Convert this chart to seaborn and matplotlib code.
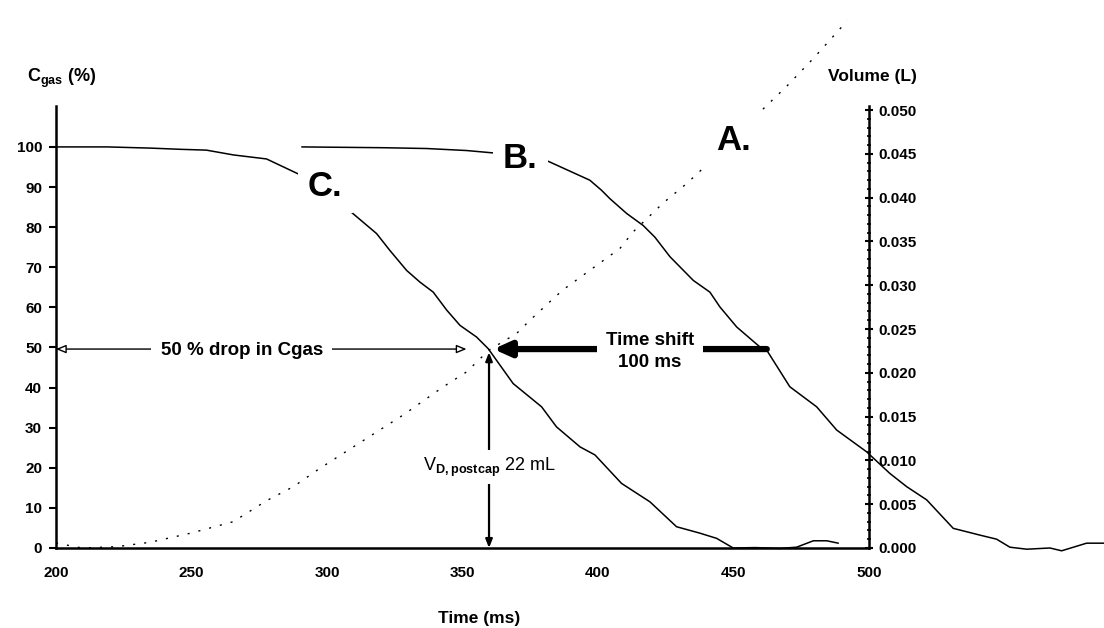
import matplotlib
matplotlib.use('Agg')
import matplotlib.pyplot as plt
from matplotlib.ticker import MultipleLocator
import seaborn as sns

# curve C: gas concentration (%)
time_c = [200, 219, 235, 246, 255.5, 265.5, 277.7, 289.3, 308.5, 318.3, 323.2, 329.4, 334.3, 339.2,
          344.2, 349.1, 355.2, 359.5, 368.7, 379.2, 384.7, 393.4, 398.9, 408.7, 419.2, 429.0,
          437.6, 443.8, 449.9, 458, 467.2, 473.3, 479.5, 484.4, 488.7]
cgas_c = [100, 100, 99.7, 99.4, 99.2, 98.0, 97.0, 93.3, 84.0, 78.4, 74.2, 69.2, 66.3, 63.8,
          59.3, 55.5, 52.6, 49.7, 41.0, 35.2, 30.2, 25.2, 23.2, 16.1, 11.5, 5.3,
          3.7, 2.4, 0.0, 0.1, -0.1, 0.2, 1.8, 1.8, 1.2]

# curve B: gas concentration (%)
time_b = [290.7, 320.8, 336.8, 351.5, 361.4, 381.7, 397.0, 401.3, 404.4, 410.6, 416.7, 421.0,
          426.6, 435.2, 441.3, 445.0, 451.2, 459.8, 462.3, 470.8, 480.7, 488.1, 499.1, 507.7,
          513.9, 521.3, 531.1, 541.0, 547.1, 552.0, 558.2, 566.8, 571.1, 580.3, 586.7]
cgas_b = [100, 99.8, 99.6, 99.1, 98.5, 96.4, 91.7, 89.2, 87.1, 83.4, 80.4, 77.5,
          72.6, 66.7, 63.8, 60.1, 55.1, 50.1, 49.3, 40.2, 35.2, 29.4, 24.0, 18.6,
          15.3, 12.0, 4.9, 3.2, 2.2, 0.2, -0.3, 0.0, -0.7, 1.2, 1.2]

# curve A: volume (L)
time_a = [200, 203.9, 207.7, 210, 222.4, 234.7, 249.8, 265.4, 277.7, 287.6, 297.4, 328.2, 342.9,
          351.5, 359.8, 370, 374.9, 382.9, 387.2, 397.0, 408.1, 413.0, 424.1, 432.7, 440.7,
          459.2, 469.6, 479.5, 492.0]
vol_a = [0.00057, 0.00034, 0.0001, 0.0, 0.00015, 0.00065, 0.0017, 0.0030, 0.0054, 0.0070, 0.0091,
         0.0152, 0.0184, 0.0201, 0.0226, 0.0245, 0.0260, 0.0283, 0.0295, 0.0317, 0.0342, 0.0361,
         0.0394, 0.0416, 0.0439, 0.0496, 0.0527, 0.0559, 0.0602]

x_ticks = [200, 250, 300, 350, 400, 450, 500]
cgas_ticks = [0, 10, 20, 30, 40, 50, 60, 70, 80, 90, 100]
vol_ticks = [0.000, 0.005, 0.010, 0.015, 0.020, 0.025, 0.030, 0.035, 0.040, 0.045, 0.050]

sns.set_style('white')
plt.rcParams['font.family'] = ['Liberation Sans', 'DejaVu Sans']
plt.rcParams['font.weight'] = 'bold'
plt.rcParams['text.color'] = 'black'
plt.rcParams['xtick.color'] = 'black'
plt.rcParams['ytick.color'] = 'black'
plt.rcParams['axes.edgecolor'] = 'black'
plt.rcParams['mathtext.fontset'] = 'custom'
plt.rcParams['mathtext.rm'] = 'Liberation Sans'
plt.rcParams['mathtext.bf'] = 'Liberation Sans:bold'

fig = plt.figure(figsize=(11.04, 6.28), dpi=100)
ax = fig.add_axes([0.0507, 0.1274, 0.7364, 0.7038])
ax2 = ax.twinx()
ax.set_zorder(ax2.get_zorder() + 1)
ax.patch.set_visible(False)

sns.lineplot(x=time_a, y=vol_a, ax=ax2, color='black', lw=1.0)
ax2.lines[0].set_linestyle((0, (1.5, 6.5)))
sns.lineplot(x=time_c, y=cgas_c, ax=ax, color='black', lw=1.1)
sns.lineplot(x=time_b, y=cgas_b, ax=ax, color='black', lw=1.1)
for line in ax.lines + ax2.lines:
    line.set_clip_on(False)

ax.set_xlim(200, 500)
ax.set_ylim(0, 110.2)
ax2.set_ylim(0, 0.05046)
ax.set_xticks(x_ticks)
ax.set_yticks(cgas_ticks)
ax2.set_yticks(vol_ticks)
ax2.set_yticklabels([f'{v:.3f}' for v in vol_ticks])
ax2.yaxis.set_minor_locator(MultipleLocator(0.001))
ax.set_xlabel('')
ax.set_ylabel('')
ax2.set_ylabel('')

for s in ['top', 'right']:
    ax.spines[s].set_visible(False)
for s in ['top', 'left', 'bottom']:
    ax2.spines[s].set_visible(False)
for s in ['left', 'bottom']:
    ax.spines[s].set_linewidth(1.8)
ax2.spines['right'].set_linewidth(1.8)

ax.tick_params(axis='y', direction='out', length=5, width=1.5, pad=5, labelsize=11)
ax.tick_params(axis='x', direction='out', length=3, width=1.5, pad=10, labelsize=11)
ax2.tick_params(axis='y', which='major', direction='inout', length=6, width=1.5, pad=4, labelsize=11)
ax2.tick_params(axis='y', which='minor', direction='inout', length=3, width=1.2)

box = dict(boxstyle='square,pad=0.3', fc='white', ec='none')
ax.text(299.4, 90.2, 'C.', fontsize=25, ha='center', va='center', bbox=box)
ax.text(371.4, 97.1, 'B.', fontsize=25, ha='center', va='center', bbox=box)
ax.text(450.0, 101.5, 'A.', fontsize=25, ha='center', va='center', bbox=box)

# 50 % drop
ax.annotate('', xy=(351.5, 49.6), xytext=(200, 49.6),
            arrowprops=dict(arrowstyle='<|-|>, head_length=0.6, head_width=0.25',
                            fc='white', ec='black', lw=1, shrinkA=0, shrinkB=0))
ax.text(268.6, 49.3, '50 % drop in Cgas', fontsize=13.5, ha='center', va='center',
        bbox=dict(boxstyle='square,pad=0.5', fc='white', ec='none'))

# time shift
ax.annotate('', xy=(361.4, 49.6), xytext=(462.3, 49.6),
            arrowprops=dict(arrowstyle='-|>, head_length=1.0, head_width=0.45',
                            fc='black', ec='black', lw=4.5, shrinkA=0, shrinkB=0))
ax.text(419.2, 49.0, 'Time shift\n100 ms', fontsize=13.5, ha='center', va='center', linespacing=1.35,
        bbox=dict(boxstyle='square,pad=0.45', fc='white', ec='none'))

# dead space volume
ax.annotate('', xy=(359.8, 48.8), xytext=(359.8, 0),
            arrowprops=dict(arrowstyle='<|-|>, head_length=0.5, head_width=0.2',
                            fc='black', ec='black', lw=1.6, shrinkA=0, shrinkB=0))
ax.text(359.8, 20.1, r'V$_{\mathrm{D,postcap}}$ 22 mL', fontsize=13, fontweight='normal',
        ha='center', va='center', bbox=dict(boxstyle='square,pad=0.3', fc='white', ec='none'))

fig.text(62 / 1104, 1 - 78 / 628, r'$\mathbf{C_{gas}}$ (%)', fontsize=13, ha='center', va='center')
fig.text(872 / 1104, 1 - 77 / 628, 'Volume (L)', fontsize=12.5, ha='center', va='center')
fig.text(479 / 1104, 1 - 619 / 628, 'Time (ms)', fontsize=12.5, ha='center', va='center')

plt.savefig('out.png', dpi=100)
